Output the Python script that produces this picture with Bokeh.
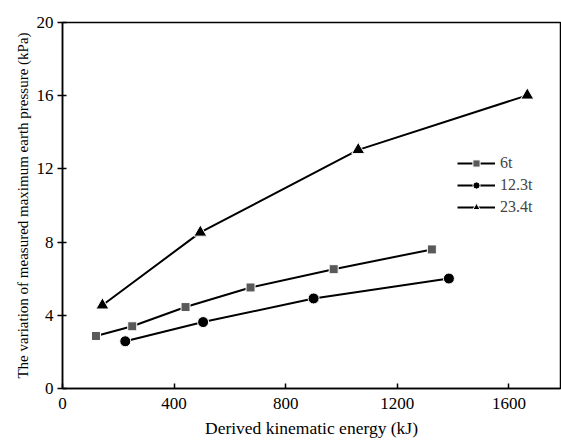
from bokeh.plotting import figure
from bokeh.models import Range1d, FixedTicker, Legend, LegendItem
from bokeh.embed import file_html
from bokeh.resources import INLINE

x_6t = [120, 250, 441, 674, 972, 1324]
y_6t = [2.87, 3.40, 4.45, 5.52, 6.52, 7.60]
x_12t = [225, 504, 900, 1385]
y_12t = [2.58, 3.63, 4.92, 6.01]
x_23t = [143, 494, 1060, 1666]
y_23t = [4.55, 8.53, 13.04, 16.02]
labels = ["6t", "12.3t", "23.4t"]
x_ticks = [0, 400, 800, 1200, 1600]
y_ticks = [0, 4, 8, 12, 16, 20]

FONT = "Liberation Serif"

p = figure(width=561, height=446, output_backend="svg", toolbar_location=None,
           x_range=Range1d(0, 1785), y_range=Range1d(0, 20),
           min_border_left=62, min_border_right=1, min_border_top=22, min_border_bottom=58)
p.xgrid.visible = False
p.ygrid.visible = False
p.outline_line_color = "black"
p.outline_line_width = 1.5

for ax in (p.xaxis[0], p.yaxis[0]):
    ax.axis_line_width = 1.5
    ax.axis_line_color = "black"
    ax.major_tick_line_width = 1.5
    ax.minor_tick_line_color = None
    ax.major_label_text_font = FONT
    ax.major_label_text_font_size = "17px"
    ax.major_label_text_color = "black"
    ax.axis_label_text_font = FONT
    ax.axis_label_text_font_style = "normal"
    ax.axis_label_text_color = "black"

p.xaxis.axis_label_text_font_size = "17.5px"
p.yaxis.axis_label_text_font_size = "15px"
p.xaxis.ticker = FixedTicker(ticks=x_ticks)
p.yaxis.ticker = FixedTicker(ticks=y_ticks)
p.xaxis.major_tick_in = 5
p.xaxis.major_tick_out = 0
p.yaxis.major_tick_in = 4
p.yaxis.major_tick_out = 5
p.xaxis.major_label_standoff = 9
p.yaxis.major_label_standoff = 4
p.xaxis.axis_label = "Derived kinematic energy (kJ)"
p.yaxis.axis_label = "The variation of measured maximum earth pressure (kPa)"
p.xaxis.axis_label_standoff = 6
p.yaxis.axis_label_standoff = 3

r1l = p.line(x_6t, y_6t, line_color="black", line_width=2)
r1m = p.scatter(x_6t, y_6t, marker="square", size=9, fill_color="#595959", line_color="white", line_width=1)
r2l = p.line(x_12t, y_12t, line_color="black", line_width=2)
r2m = p.scatter(x_12t, y_12t, marker="circle", size=11, fill_color="black", line_color="white", line_width=1)
r3l = p.line(x_23t, y_23t, line_color="black", line_width=2)
r3m = p.scatter(x_23t, y_23t, marker="triangle", size=13, fill_color="black", line_color="white", line_width=1)

legend = Legend(items=[
    LegendItem(label=labels[0], renderers=[r1l, r1m]),
    LegendItem(label=labels[1], renderers=[r2l, r2m]),
    LegendItem(label=labels[2], renderers=[r3l, r3m]),
], location=(395, 172))
legend.border_line_color = None
legend.background_fill_alpha = 0
legend.label_text_font = FONT
legend.label_text_font_size = "16px"
legend.glyph_width = 38
legend.glyph_height = 18
legend.label_standoff = 5
legend.spacing = 4
legend.padding = 0
legend.margin = 0
p.add_layout(legend)

open("out.html", "w").write(file_html(p, INLINE))
